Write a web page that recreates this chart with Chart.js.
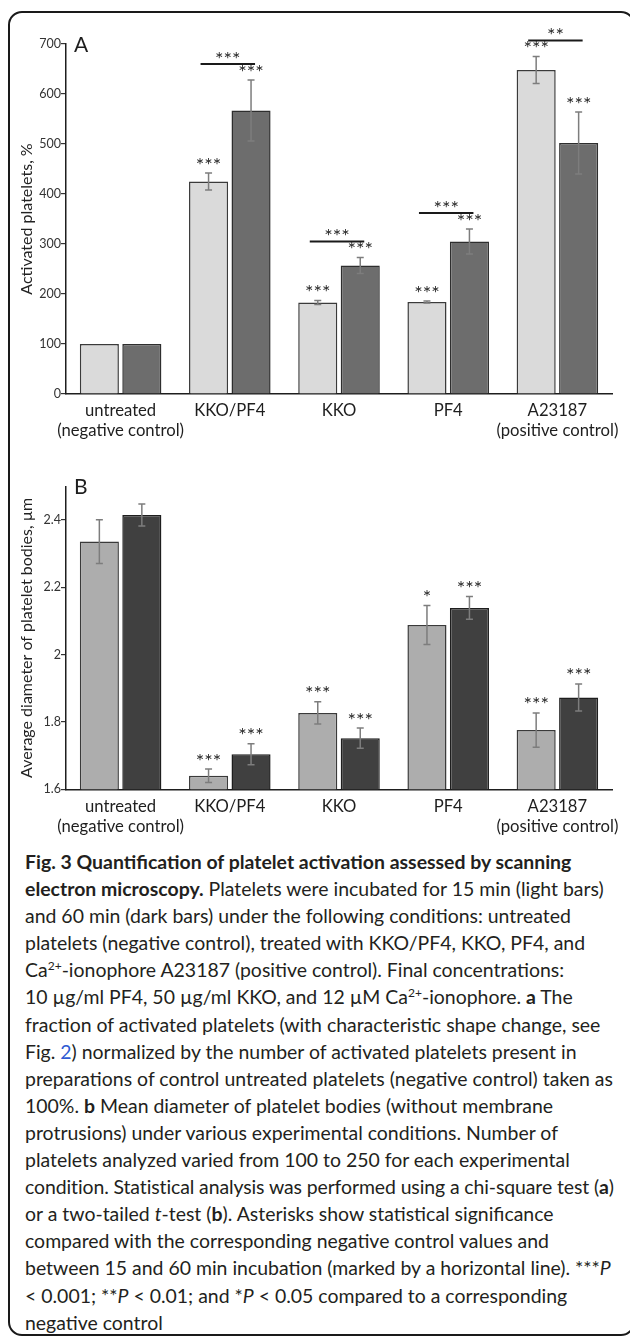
<!DOCTYPE html>
<html><head><meta charset="utf-8">
<script src="https://cdn.jsdelivr.net/npm/chart.js@4.4.1/dist/chart.umd.min.js"></script>
<style>
html,body{margin:0;padding:0;background:#fff;}
body{width:630px;height:1337px;position:relative;overflow:hidden;font-family:Lato, "Open Sans", sans-serif;}
#frame{position:absolute;left:8px;top:11px;width:627px;height:1325px;border:2.5px solid #1a1a1a;border-radius:14px;box-sizing:border-box;}
#cA{position:absolute;left:0;top:0;}
#cB{position:absolute;left:0;top:440px;}
.panel{position:absolute;font-size:21px;line-height:24px;color:#1e1e1e;}
#caption{position:absolute;left:25px;top:848px;color:#231f20;font-size:18px;}
#caption .ln{white-space:nowrap;height:27.1px;line-height:27.1px;width:max-content;}
#caption b{font-weight:700;}
sup{font-size:0.62em;line-height:0;vertical-align:0.6em;}
.lnk{color:#2f5bd3;}
</style></head>
<body>
<div id="frame"></div>
<canvas id="cA" width="630" height="440"></canvas>
<canvas id="cB" width="630" height="400"></canvas>
<div class="panel" style="left:74px;top:32px;">A</div>
<div class="panel" style="left:74px;top:474px;">B</div>
<div id="caption">
<div class="ln"><b>Fig. 3 Quantification of platelet activation assessed by scanning</b></div>
<div class="ln"><b>electron microscopy.</b> Platelets were incubated for 15 min (light bars)</div>
<div class="ln">and 60 min (dark bars) under the following conditions: untreated</div>
<div class="ln">platelets (negative control), treated with KKO/PF4, KKO, PF4, and</div>
<div class="ln">Ca<sup>2+</sup>-ionophore A23187 (positive control). Final concentrations:</div>
<div class="ln">10 µg/ml PF4, 50 µg/ml KKO, and 12 µM Ca<sup>2+</sup>-ionophore. <b>a</b> The</div>
<div class="ln">fraction of activated platelets (with characteristic shape change, see</div>
<div class="ln">Fig. <span class="lnk">2</span>) normalized by the number of activated platelets present in</div>
<div class="ln" id="l9">preparations of control untreated platelets (negative control) taken as</div>
<div class="ln">100%. <b>b</b> Mean diameter of platelet bodies (without membrane</div>
<div class="ln">protrusions) under various experimental conditions. Number of</div>
<div class="ln">platelets analyzed varied from 100 to 250 for each experimental</div>
<div class="ln">condition. Statistical analysis was performed using a chi-square test (<b>a</b>)</div>
<div class="ln">or a two-tailed <i>t</i>-test (<b>b</b>). Asterisks show statistical significance</div>
<div class="ln">compared with the corresponding negative control values and</div>
<div class="ln">between 15 and 60 min incubation (marked by a horizontal line). ***<i>P</i></div>
<div class="ln">&lt; 0.001; **<i>P</i> &lt; 0.01; and *<i>P</i> &lt; 0.05 compared to a corresponding</div>
<div class="ln">negative control</div>
</div>
<script>
// ---- data ----
const categories = [['untreated','(negative control)'], 'KKO/PF4', 'KKO', 'PF4', ['A23187','(positive control)']];

const activated15    = [100, 425, 183, 184, 648];
const activated15Err = [0, 17, 4, 2, 27];
const activated60    = [100, 567, 257, 305, 502];
const activated60Err = [0, 61, 16, 25, 62];
const sigA15   = ['', '***', '***', '***', '***'];
const sigA60   = ['', '***', '***', '***', '***'];
const sigAPair = ['', '***', '***', '***', '**'];
const ticksA = [0, 100, 200, 300, 400, 500, 600, 700];

const diameter15    = [2.336, 1.640, 1.827, 2.088, 1.776];
const diameter15Err = [0.065, 0.020, 0.033, 0.058, 0.051];
const diameter60    = [2.415, 1.704, 1.752, 2.139, 1.873];
const diameter60Err = [0.033, 0.031, 0.030, 0.034, 0.040];
const sigB15 = ['', '***', '***', '*', '***'];
const sigB60 = ['', '***', '***', '***', '***'];
const ticksB = [1.6, 1.8, 2, 2.2, 2.4];

// ---- fonts ----
const FAM = 'Lato, "Open Sans", sans-serif';
const mctx = document.createElement('canvas').getContext('2d');
mctx.font = '15px ' + FAM;
const labelSize = Math.max(13, Math.min(17, 15 * 127 / mctx.measureText('(negative control)').width));

// caption fit
(function(){
  const cap = document.getElementById('caption');
  const ref = document.getElementById('l9');
  const w = ref.getBoundingClientRect().width;
  cap.style.fontSize = (18 * 588 / w) + 'px';
  const target = 590;
  cap.querySelectorAll('.ln').forEach(ln => {
    const lw = ln.getBoundingClientRect().width;
    if (lw > target) {
      const n = ln.textContent.length;
      ln.style.letterSpacing = ((target - lw) / n) + 'px';
    }
  });
})();

// ---- annotation plugin ----
const annotate = {
  id: 'annotate',
  afterDatasetsDraw(chart, args, opts) {
    const ctx = chart.ctx, y = chart.scales.y;
    const tops = [[], []];
    ctx.save();
    chart.data.datasets.forEach((ds, di) => {
      const meta = chart.getDatasetMeta(di);
      meta.data.forEach((bar, i) => {
        const v = ds.data[i], e = ds.errors[i];
        const yt = y.getPixelForValue(v + e), yb = y.getPixelForValue(v - e);
        tops[di][i] = yt;
        if (e > 0) {
          ctx.strokeStyle = '#7d7d7d'; ctx.lineWidth = 1.5;
          ctx.beginPath();
          ctx.moveTo(bar.x, yt); ctx.lineTo(bar.x, yb);
          ctx.moveTo(bar.x - 3.5, yt); ctx.lineTo(bar.x + 3.5, yt);
          ctx.moveTo(bar.x - 3.5, yb); ctx.lineTo(bar.x + 3.5, yb);
          ctx.stroke();
        }
        if (ds.sig && ds.sig[i]) drawStars(ctx, ds.sig[i], bar.x, yt - 12);
      });
    });
    const pairs = opts.pairs || [];
    const m0 = chart.getDatasetMeta(0), m1 = chart.getDatasetMeta(1);
    pairs.forEach((s, i) => {
      if (!s) return;
      const x1 = m0.data[i].x - 8, x2 = m1.data[i].x + 4;
      const ly = Math.min(tops[0][i], tops[1][i]) - 16;
      ctx.strokeStyle = '#1a1a1a'; ctx.lineWidth = 2;
      ctx.beginPath(); ctx.moveTo(x1, ly); ctx.lineTo(x2, ly); ctx.stroke();
      drawStars(ctx, s, (x1 + x2) / 2, ly - 9);
    });
    ctx.restore();
  }
};
function drawStars(ctx, s, x, cy) {
  ctx.font = '20px ' + FAM;
  ctx.fillStyle = '#2a2a2a';
  ctx.textAlign = 'center';
  ctx.textBaseline = 'alphabetic';
  const m = ctx.measureText(s);
  const base = cy + (m.actualBoundingBoxAscent - m.actualBoundingBoxDescent) / 2;
  ctx.fillText(s, x, base);
}

function makeChart(id, d15, e15, s15, d60, e60, s60, pairs, c15, c60, yopts, title, padTop, xH) {
  return new Chart(document.getElementById(id), {
    type: 'bar',
    data: {
      labels: categories,
      datasets: [
        { data: d15, errors: e15, sig: s15, backgroundColor: c15[0], borderColor: c15[1], borderWidth: 1.5,
          categoryPercentage: 0.778, barPercentage: 0.92 },
        { data: d60, errors: e60, sig: s60, backgroundColor: c60[0], borderColor: c60[1], borderWidth: 1.5,
          categoryPercentage: 0.778, barPercentage: 0.92 }
      ]
    },
    options: {
      responsive: false, animation: false, devicePixelRatio: 1,
      layout: { padding: { top: padTop, right: 18, left: 0, bottom: 0 } },
      plugins: { legend: { display: false }, tooltip: { enabled: false }, annotate: { pairs } },
      scales: {
        x: {
          grid: { display: false, drawTicks: false },
          border: { color: '#1e1e1e', width: 1.5 },
          ticks: { color: '#1e1e1e', font: { family: FAM, size: labelSize }, padding: 7, maxRotation: 0, autoSkip: false },
          afterFit(s) { s.height = xH; }
        },
        y: Object.assign({
          grid: { drawOnChartArea: false, tickLength: 5, color: '#333', lineWidth: 1.2 },
          border: { color: '#1e1e1e', width: 1.5 },
          title: { display: true, text: title, color: '#222', font: { family: FAM, size: 16 }, padding: { top: 17, bottom: 0 } },
          afterFit(s) { s.width = 66; }
        }, yopts)
      }
    },
    plugins: [annotate]
  });
}

makeChart('cA', activated15, activated15Err, sigA15, activated60, activated60Err, sigA60, sigAPair,
  ['#dadada', '#3a3a3a'], ['#6d6d6d', '#2e2e2e'],
  { min: 0, max: 700,
    afterBuildTicks(s) { s.ticks = ticksA.map(v => ({ value: v })); },
    ticks: { color: '#333', font: { family: FAM, size: 12.5 }, padding: 0 } },
  'Activated platelets, %', 44, 46);

makeChart('cB', diameter15, diameter15Err, sigB15, diameter60, diameter60Err, sigB60, [],
  ['#adadad', '#3a3a3a'], ['#404040', '#1e1e1e'],
  { min: 1.6, max: 2.5,
    afterBuildTicks(s) { s.ticks = ticksB.map(v => ({ value: v })); },
    ticks: { color: '#333', font: { family: FAM, size: 12.5 }, padding: 0, callback: v => String(+(+v).toFixed(1)) } },
  'Average diameter of platelet bodies, µm', 46.4, 50.7);
</script>
</body></html>
